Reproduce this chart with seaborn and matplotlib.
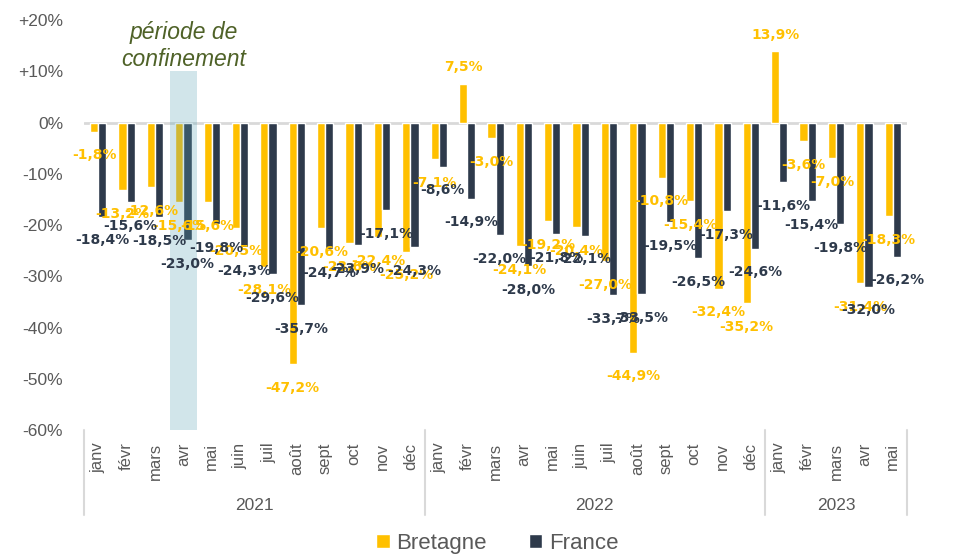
import matplotlib
matplotlib.use("Agg")
import pandas as pd
import matplotlib.pyplot as plt
import seaborn as sns

# Data (variation in %, Bretagne vs France)
months_year = ["janv", "févr", "mars", "avr", "mai", "juin", "juil", "août", "sept", "oct", "nov", "déc"]
months = months_year + months_year + months_year[:5]
years = ["2021"] * 12 + ["2022"] * 12 + ["2023"] * 5

bretagne = [-1.8, -13.2, -12.6, -15.6, -15.6, -20.5, -28.1, -47.2, -20.6, -23.6, -22.4, -25.2,
            -7.1, 7.5, -3.0, -24.1, -19.2, -20.4, -27.0, -44.9, -10.8, -15.4, -32.4, -35.2,
            13.9, -3.6, -7.0, -31.4, -18.3]
france = [-18.4, -15.6, -18.5, -23.0, -19.8, -24.3, -29.6, -35.7, -24.7, -23.9, -17.1, -24.3,
          -8.6, -14.9, -22.0, -28.0, -21.8, -22.1, -33.7, -33.5, -19.5, -26.5, -17.3, -24.6,
          -11.6, -15.4, -19.8, -32.0, -26.2]

confinement_month = "2021-avr"
confinement_text = "période de\nconfinement"

keys = [f"{y}-{m}" for y, m in zip(years, months)]
n = len(keys)
df = pd.DataFrame({
    "mois": keys * 2,
    "zone": ["Bretagne"] * n + ["France"] * n,
    "valeur": bretagne + france,
})

sns.set_theme(style="white")
plt.rcParams["font.family"] = ["Liberation Sans", "DejaVu Sans"]

gray = "#595959"
colors = {"Bretagne": "#FFC000", "France": "#2E3A4B"}

fig = plt.figure(figsize=(9.55, 5.55), dpi=100)
ax = fig.add_axes([0.088, 0.2252, 0.8617, 0.7387])

sns.barplot(data=df, x="mois", y="valeur", hue="zone", order=keys,
            hue_order=["Bretagne", "France"], palette=colors, saturation=1,
            width=0.58, ax=ax)
handles, labels = ax.get_legend_handles_labels()
ax.get_legend().remove()

# data labels
for cont in ax.containers:
    for p in cont:
        h = p.get_height()
        x = p.get_x() + p.get_width() / 2
        ax.annotate(f"{h:.1f}%".replace(".", ","), (x, h),
                    xytext=(0, -17 if h < 0 else 12), textcoords="offset points",
                    ha="center", va="center", fontsize=10, fontweight="bold",
                    family="DejaVu Sans", color=p.get_facecolor(), zorder=4)

# zero line
ax.axhline(0, color="#d9d9d9", lw=2, zorder=0.5)

# lockdown shading
ci = keys.index(confinement_month)
ax.axvspan(ci - 0.48, ci + 0.48, ymin=0, ymax=(10 + 60) / 80, color="#5ba4b6",
           alpha=0.28, lw=0, zorder=2)
ax.text(ci, 14.9, confinement_text, ha="center", va="center", fontsize=16.5,
        style="italic", color="#4f6228", linespacing=1.2)

# axes
ax.set_ylim(-60, 20)
ax.set_yticks(range(-60, 21, 10))
ax.yaxis.set_major_formatter(plt.FuncFormatter(
    lambda v, _: f"+{v:.0f}%" if v > 0 else f"{v:.0f}%"))
ax.set_xlim(-0.5, n - 0.5)
ax.set_xticks(range(n))
ax.set_xticklabels(months, rotation=90)
ax.tick_params(axis="x", length=0, pad=9, labelsize=12, labelcolor=gray)
ax.tick_params(axis="y", length=0, pad=15, labelsize=12.5, labelcolor=gray)
ax.set_xlabel("")
ax.set_ylabel("")
sns.despine(ax=ax, left=True, bottom=True)

# year groups
trans = ax.get_xaxis_transform()
year_names = list(dict.fromkeys(years))
start = -0.5
ax.plot([start, start], [0, -0.207], transform=trans, color="#d9d9d9", lw=1.5, clip_on=False)
for yname in year_names:
    cnt = years.count(yname)
    end = start + cnt
    ax.plot([end, end], [0, -0.207], transform=trans, color="#d9d9d9", lw=1.5, clip_on=False)
    ax.text((start + end) / 2, -0.185, yname, transform=trans, ha="center", va="center",
            fontsize=12.5, color=gray)
    start = end

fig.legend(handles, labels, loc="center", bbox_to_anchor=(0.521, 0.021), ncol=2,
           frameon=False, fontsize=16, labelcolor=gray, handlelength=0.6,
           handleheight=0.6, handletextpad=0.3, columnspacing=1.9)

fig.savefig("out.png", dpi=100)
